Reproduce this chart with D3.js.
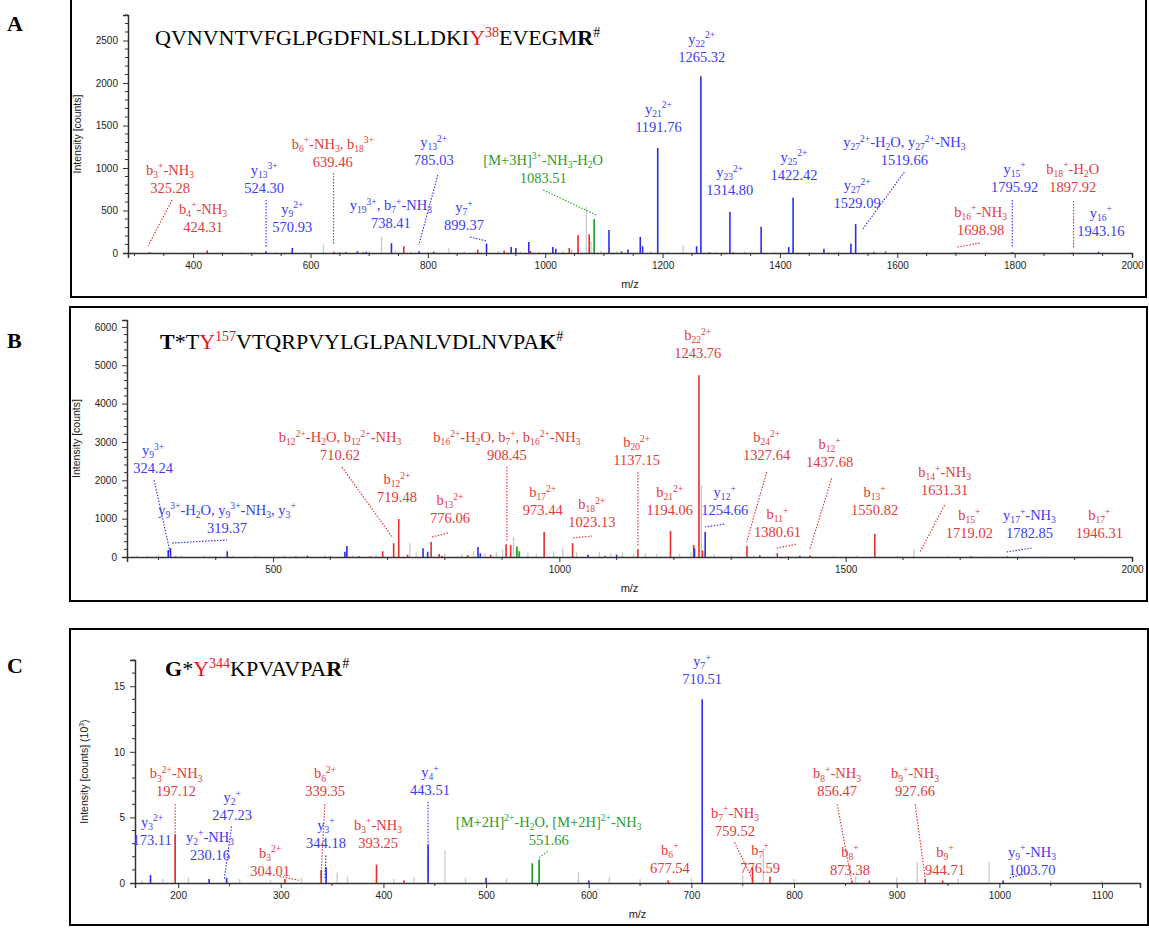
<!DOCTYPE html>
<html>
<head>
<meta charset="utf-8">
<script src="https://cdn.jsdelivr.net/npm/d3@7"></script>
<style>
  html, body { margin: 0; padding: 0; background: #fff; }
  svg { display: block; }
</style>
</head>
<body>
<script>
// ---------------- Panel A : QVNVNTVFGLPGDFNLSLLDKIY38EVEGMR ----------------
const xTicksA = [400, 600, 800, 1000, 1200, 1400, 1600, 1800, 2000];
const yTicksA = [0, 500, 1000, 1500, 2000, 2500];
const peaksA_gray = [[300,8],[330,12],[362,6],[395,10],[450,8],[482,12],[505,9],[540,14],[590,10],[622,100],[650,18],[700,25],[721,190],[745,30],[772,22],[800,15],[836,60],[862,20],[920,25],[958,18],[990,22],[1030,30],[1045,40],[1070,545],[1078,140],[1095,30],[1122,20],[1180,25],[1210,18],[1235,90],[1290,15],[1340,20],[1390,18],[1450,12],[1482,15],[1500,20],[1552,10],[1600,12],[1650,8],[1752,10],[1850,6],[1952,8]];
const peaksA_red = [[325.3,10],[424,30],[640,15],[660,10],[690,10],[759,80],[885,40],[930,30],[975,25],[1041,60],[1056,210],[1075,220],[1280,10],[1320,10],[1560,15],[1580,20],[1699,5],[1898,5]];
const peaksA_blue = [[524.3,20],[569,60],[680,20],[695,15],[738,115],[785,20],[810,15],[900,110],[942,70],[950,60],[972,130],[1013,70],[1018,50],[1108.7,270],[1130,20],[1141,40],[1162,190],[1166,80],[1191.76,1235],[1258,80],[1265.32,2080],[1314.8,486],[1368,310],[1415,70],[1422.42,650],[1475,50],[1521,110],[1529.09,340],[1796,12],[1943,15]];
const peaksA_green = [[1083.51,400]];
const ionsA = ["b_3^+-NH_3","b_4^+-NH_3","y_{13}^{3+}","y_9^{2+}","b_6^+-NH_3, b_{18}^{3+}","y_{13}^{2+}","y_{19}^{3+}, b_7^+-NH_3","y_7^+","[M+3H]^{3+}-NH_3-H_2O","y_{21}^{2+}","y_{22}^{2+}","y_{23}^{2+}","y_{25}^{2+}","y_{27}^{2+}-H_2O, y_{27}^{2+}-NH_3","y_{27}^{2+}","b_{16}^+-NH_3","y_{15}^+","b_{18}^+-H_2O","y_{16}^+"];
const mzLabelsA = ["325.28","424.31","524.30","570.93","639.46","785.03","738.41","899.37","1083.51","1191.76","1265.32","1314.80","1422.42","1519.66","1529.09","1698.98","1795.92","1897.92","1943.16"];
const ionColorsA = ["r","r","b","b","r","b","b","b","g","b","b","b","b","b","b","r","b","r","b"];
// label anchors (m/z centre, intensity of the value line baseline)
const labelPosA = [[360.7,706],[417,247],[521,706],[569,247],[638,1012],[810,1035],[737,294],[861.5,270],[996.6,824],[1193,1424],[1266.7,2247],[1314.5,682],[1424,859],[1612,1035],[1531.6,529],[1742,212],[1800,718],[1899,718],[1947,200]];
// dotted leader lines [m/z1, int1, m/z2, int2, colour]
const leadersA = [[364.1,624,323,82,"r"],[524.3,624,524.3,59,"b"],[639.3,941,639.3,94,"r"],[817,918,784.6,94,"b"],[871.8,188,900.9,141,"b"],[996.6,741,1087,447,"g"],[1612,953,1540,270,"b"],[1702.6,71,1742,118,"r"],[1796,624,1796,59,"b"],[1900.5,612,1900.5,59,"r"]];

// ---------------- Panel B : T*TY157VTQRPVYLGLPANLVDLNVPAK ----------------
const xTicksB = [500, 1000, 1500, 2000];
const yTicksB = [0, 1000, 2000, 3000, 4000, 5000, 6000];
const peaksB_gray = [[262,40],[280,30],[300,60],[340,40],[380,50],[430,30],[470,40],[520,50],[560,40],[590,60],[640,50],[680,70],[739,360],[750,120],[800,90],[830,80],[850,150],[870,110],[890,130],[901,200],[920,520],[945,120],[960,90],[990,150],[1006,250],[1030,120],[1050,100],[1070,140],[1090,100],[1110,120],[1130,90],[1150,110],[1170,80],[1210,90],[1230,130],[1248,1870],[1270,80],[1300,60],[1340,50],[1400,40],[1480,30],[1520,40],[1590,30],[1619,210],[1680,30],[1750,20],[1850,20],[1950,15]];
const peaksB_red = [[330,20],[400,10],[540,20],[600,20],[670,20],[691.5,150],[710.62,360],[719.48,990],[735,60],[776.06,390],[790,80],[795,30],[840,50],[880,60],[907,330],[915,310],[973.44,650],[1023.13,360],[1080,30],[1137.15,210],[1194.06,680],[1234.6,310],[1243.76,4740],[1250,170],[1327.64,290],[1380.61,100],[1437.68,40],[1550.82,600],[1719,20]];
const peaksB_blue = [[317,180],[321,230],[420,150],[560,30],[650,20],[625.6,140],[629,290],[762,230],[770,140],[858,260],[862,100],[1050,50],[1100,60],[1236,220],[1254.66,650],[1350,40],[1420,30],[1782,10]];
const peaksB_green = [[925.8,270],[930,150]];
const ionsB = ["y_9^{3+}","y_9^{3+}-H_2O, y_9^{3+}-NH_3, y_3^+","b_{12}^{2+}-H_2O, b_{12}^{2+}-NH_3","b_{12}^{2+}","b_{13}^{2+}","b_{16}^{2+}-H_2O, b_7^+, b_{16}^{2+}-NH_3","b_{17}^{2+}","b_{18}^{2+}","b_{20}^{2+}","b_{21}^{2+}","b_{22}^{2+}","y_{12}^+","b_{24}^{2+}","b_{11}^+","b_{12}^+","b_{13}^+","b_{14}^+-NH_3","b_{15}^+","y_{17}^+-NH_3","b_{17}^+"];
const mzLabelsB = ["324.24","319.37","710.62","719.48","776.06","908.45","973.44","1023.13","1137.15","1194.06","1243.76","1254.66","1327.64","1380.61","1437.68","1550.82","1631.31","1719.02","1782.85","1946.31"];
const ionColorsB = ["b","b","r","r","r","r","r","r","r","r","r","b","r","r","r","r","r","r","b","r"];
const labelPosB = [[290.6,2187],[419.7,626],[617,2526],[716.4,1432],[809,885],[908.4,2526],[971,1094],[1056.7,781],[1135,2396],[1192.8,1094],[1241.7,5182],[1288.8,1094],[1362,2526],[1381,521],[1472,2344],[1550.6,1094],[1672.8,1615],[1716,495],[1821,495],[1943,495]];
const leadersB = [[292.3,2005,320.2,130,"b"],[323.7,365,419.7,443,"b"],[620.4,2344,709.4,495,"r"],[777.5,521,805.4,625,"r"],[908.45,2344,908.45,417,"r"],[1023.6,495,1056.7,547,"r"],[1137.15,2214,1137.15,260,"r"],[1254,781,1288.8,859,"b"],[1362,2214,1327,390,"r"],[1379.6,234,1416,339,"r"],[1475.6,2057,1437,182,"r"],[1672.8,1354,1629,104,"r"],[1781,130,1824.6,234,"b"]];

// ---------------- Panel C : G*Y344KPVAVPAR ----------------
const xTicksC = [200, 300, 400, 500, 600, 700, 800, 900, 1000, 1100];
const yTicksC = [0, 5, 10, 15];
const peaksC_gray = [[165,0.2],[185,0.3],[210,0.4],[260,0.3],[290,0.2],[320,0.4],[355,0.8],[365,0.5],[410,0.3],[430,0.4],[460,2.5],[480,0.4],[520,0.3],[590,0.8],[620,0.5],[650,0.3],[700,0.4],[750,0.6],[770,2.6],[800,0.3],[860,0.5],[900,0.4],[920,1.6],[960,0.3],[990,1.6],[1050,0.2],[1100,0.2]];
const peaksC_red = [[197.12,3.7],[304,0.3],[339.35,1.0],[393.25,1.4],[420,0.2],[677.5,0.2],[759.52,1.2],[776.59,0.5],[856.5,0.2],[873.4,0.2],[927.7,0.3],[944.7,0.2]];
const peaksC_blue = [[173.11,0.6],[230.2,0.3],[247.23,0.4],[344.18,1.2],[443.51,2.9],[500,0.4],[600,0.2],[710.51,14.0],[1003.7,0.2]];
const peaksC_green = [[545,1.5],[551.66,1.8]];
const ionsC = ["y_3^{2+}","b_3^{2+}-NH_3","y_2^+","y_2^+-NH_3","b_3^{2+}","b_6^{2+}","y_3^+","b_3^+-NH_3","y_4^+","[M+2H]^{2+}-H_2O, [M+2H]^{2+}-NH_3","y_7^+","b_6^+","b_7^+-NH_3","b_7^+","b_8^+-NH_3","b_8^+","b_9^+-NH_3","b_9^+","y_9^+-NH_3"];
const mzLabelsC = ["173.11","197.12","247.23","230.16","304.01","339.35","344.18","393.25","443.51","551.66","710.51","677.54","759.52","776.59","856.47","873.38","927.66","944.71","1003.70"];
const ionColorsC = ["b","r","b","b","r","r","b","r","b","g","b","r","r","r","r","r","r","r","b"];
const labelPosC = [[174.7,2.9],[198,6.6],[252.6,4.8],[231,1.76],[289.6,0.54],[343.2,6.6],[344,2.68],[394.8,2.68],[445.4,6.7],[561,2.9],[710.4,15.15],[679,0.77],[742.5,3.6],[766.9,0.77],[841.9,6.6],[854.5,0.61],[917.8,6.6],[947,0.61],[1031.8,0.61]];
const leadersC = [[197.12,6.0,197.12,0.2,"r"],[252,4.3,245,0.3,"b"],[299,0.5,318,0.2,"r"],[343,6.0,339,0.3,"r"],[344,2.1,343,0.4,"b"],[443.5,6.2,443.5,0.3,"b"],[560,2.4,551,1.9,"g"],[742,3.1,760,0.2,"r"],[842,6.0,856,0.2,"r"],[918,6.0,928,0.2,"r"],[1010,0.4,1030,0.8,"b"]];

// ---------------------------------------------------------------------------
const W = 1149, H = 928;
const svg = d3.select("body").append("svg").attr("width", W).attr("height", H);

const PEAK_COL = { gray: "#c6c6c6", r: "#e52b2b", b: "#2b2bf0", g: "#27a127" };
const TEXT_COL = { r: "#e23a3a", b: "#3b3bf2", g: "#2f9a2f" };
const SERIF = "'Liberation Serif','Times New Roman',serif";
const SANS = "'Liberation Sans',Arial,sans-serif";

// split "b_{12}^{2+}-NH_3" into normal / subscript / superscript runs
function parseIon(s) {
  const segs = []; let buf = ""; let i = 0;
  const flush = () => { if (buf) { segs.push({ t: buf, m: 0 }); buf = ""; } };
  while (i < s.length) {
    const c = s[i];
    if (c === "_" || c === "^") {
      flush();
      let grp;
      if (s[i + 1] === "{") { const j = s.indexOf("}", i + 2); grp = s.slice(i + 2, j); i = j + 1; }
      else { grp = s[i + 1]; i += 2; }
      segs.push({ t: grp, m: c === "_" ? -1 : 1 });
    } else { buf += c; i++; }
  }
  flush();
  return segs;
}

function richText(textSel, s, size) {
  let cur = 0;
  parseIon(s).forEach(seg => {
    const target = seg.m === 1 ? -0.38 * size : seg.m === -1 ? 0.22 * size : 0;
    textSel.append("tspan")
      .attr("dy", (target - cur).toFixed(2))
      .attr("font-size", seg.m ? size * 0.66 : size)
      .text(seg.t);
    cur = target;
  });
}

function drawPanel(cfg) {
  const g = svg.append("g");
  const [fx0, fy0, fx1, fy1] = cfg.frame;
  g.append("rect").attr("x", fx0).attr("y", fy0).attr("width", fx1 - fx0).attr("height", fy1 - fy0)
    .attr("fill", "none").attr("stroke", "#000").attr("stroke-width", 2);

  const x = d3.scaleLinear().domain(cfg.xDomain).range([cfg.plot.left, cfg.plot.right]);
  const y = d3.scaleLinear().domain(cfg.yDomain).range([cfg.plot.bottom, cfg.plot.top]);

  // peaks
  const series = [["gray", cfg.peaks.gray, 1.2], ["r", cfg.peaks.r, 1.6], ["b", cfg.peaks.b, 1.6], ["g", cfg.peaks.g, 1.8]];
  series.forEach(([key, data, w]) => {
    g.append("g").selectAll("line").data(data).join("line")
      .attr("x1", d => x(d[0])).attr("x2", d => x(d[0]))
      .attr("y1", y(0)).attr("y2", d => y(d[1]))
      .attr("stroke", PEAK_COL[key]).attr("stroke-width", w);
  });

  // axes
  const axisCol = "#333";
  const xMinor = d3.range(Math.ceil(cfg.xDomain[0] / cfg.xMinorStep) * cfg.xMinorStep, cfg.xDomain[1] + 0.01, cfg.xMinorStep)
    .filter(v => !cfg.xTicks.includes(v));
  const yMinor = d3.range(cfg.yDomain[0], cfg.yDomain[1] + 1e-9, cfg.yMinorStep).filter(v => !cfg.yTicks.includes(v));

  const xAxis = g.append("g").attr("transform", `translate(0,${cfg.plot.bottom})`)
    .call(d3.axisBottom(x).tickValues(cfg.xTicks).tickSize(5).tickPadding(4).tickFormat(d3.format("d")));
  xAxis.append("g").selectAll("line").data(xMinor).join("line")
    .attr("x1", d => x(d)).attr("x2", d => x(d)).attr("y1", 0).attr("y2", 3).attr("stroke", axisCol);
  const yAxis = g.append("g").attr("transform", `translate(${cfg.plot.left},0)`)
    .call(d3.axisLeft(y).tickValues(cfg.yTicks).tickSize(5).tickPadding(5).tickFormat(d3.format("d")));
  yAxis.append("g").selectAll("line").data(yMinor).join("line")
    .attr("y1", d => y(d)).attr("y2", d => y(d)).attr("x1", 0).attr("x2", -3).attr("stroke", axisCol);
  [xAxis, yAxis].forEach(a => {
    a.select(".domain").attr("stroke", axisCol).attr("stroke-width", 1.5);
    a.selectAll(".tick line").attr("stroke", axisCol);
    a.selectAll(".tick text").attr("font-family", SANS).attr("font-size", 10).attr("fill", "#222");
  });

  // axis titles
  g.append("text").attr("x", (cfg.plot.left + cfg.plot.right) / 2).attr("y", cfg.plot.bottom + 35)
    .attr("text-anchor", "middle").attr("font-family", SANS).attr("font-size", 11).attr("fill", "#222").text("m/z");
  const yl = g.append("text")
    .attr("transform", `translate(${cfg.plot.left - 47},${(cfg.plot.top + cfg.plot.bottom) / 2}) rotate(-90)`)
    .attr("text-anchor", "middle").attr("font-family", SANS).attr("font-size", 10.5).attr("fill", "#222");
  richText(yl, cfg.yTitle, 10.5);

  // leader lines
  g.append("g").selectAll("line").data(cfg.leaders).join("line")
    .attr("x1", d => x(d[0])).attr("y1", d => y(d[1]))
    .attr("x2", d => x(d[2])).attr("y2", d => y(d[3]))
    .attr("stroke", d => PEAK_COL[d[4]]).attr("stroke-width", 1.1).attr("stroke-dasharray", "1.5,1.5");

  // ion annotations: ion name above, m/z value below
  const fs = 14.5;
  cfg.ions.forEach((ion, i) => {
    const [mx, my] = cfg.labelPos[i];
    const col = TEXT_COL[cfg.colors[i]];
    const t1 = g.append("text").attr("x", x(mx)).attr("y", y(my) - 18)
      .attr("text-anchor", "middle").attr("font-family", SERIF).attr("font-size", fs).attr("fill", col);
    richText(t1, ion, fs);
    g.append("text").attr("x", x(mx)).attr("y", y(my))
      .attr("text-anchor", "middle").attr("font-family", SERIF).attr("font-size", fs).attr("fill", col)
      .text(cfg.mzLabels[i]);
  });

  // peptide sequence
  const tt = g.append("text").attr("x", cfg.titlePos[0]).attr("y", cfg.titlePos[1])
    .attr("font-family", SERIF).attr("font-size", 22).attr("fill", "#000");
  let cur = 0;
  cfg.title.forEach(([txt, st]) => {
    const sup = st.includes("sup");
    const target = sup ? -8 : 0;
    tt.append("tspan").attr("dy", target - cur)
      .attr("font-size", sup ? 14 : 22)
      .attr("font-weight", st.includes("bold") ? "bold" : null)
      .attr("fill", st.includes("red") ? "#e8161a" : "#000")
      .text(txt);
    cur = target;
  });

  // panel letter
  svg.append("text").attr("x", 7).attr("y", cfg.letterY).attr("font-family", SERIF)
    .attr("font-size", 22).attr("font-weight", "bold").text(cfg.letter);
}

drawPanel({
  letter: "A", letterY: 31,
  frame: [71, -2, 1146, 297],
  plot: { left: 128, right: 1132, top: 15, bottom: 253 },
  xDomain: [289, 2000], yDomain: [0, 2800],
  xTicks: xTicksA, yTicks: yTicksA, xMinorStep: 50, yMinorStep: 100,
  yTitle: "Intensity [counts]",
  peaks: { gray: peaksA_gray, r: peaksA_red, b: peaksA_blue, g: peaksA_green },
  ions: ionsA, mzLabels: mzLabelsA, colors: ionColorsA, labelPos: labelPosA, leaders: leadersA,
  title: [["QVNVNTVFGLPGDFNLSLLDKI", ""], ["Y", "red"], ["38", "red sup"], ["EVEGM", ""], ["R", "bold"], ["#", "sup"]],
  titlePos: [155, 45]
});

drawPanel({
  letter: "B", letterY: 348,
  frame: [70, 307, 1147, 601],
  plot: { left: 127, right: 1132, top: 320, bottom: 557 },
  xDomain: [245, 2000], yDomain: [0, 6180],
  xTicks: xTicksB, yTicks: yTicksB, xMinorStep: 100, yMinorStep: 200,
  yTitle: "Intensity [counts]",
  peaks: { gray: peaksB_gray, r: peaksB_red, b: peaksB_blue, g: peaksB_green },
  ions: ionsB, mzLabels: mzLabelsB, colors: ionColorsB, labelPos: labelPosB, leaders: leadersB,
  title: [["T", "bold"], ["*T", ""], ["Y", "red"], ["157", "red sup"], ["VTQRPVYLGLPANLVDLNVPA", ""], ["K", "bold"], ["#", "sup"]],
  titlePos: [160, 349]
});

drawPanel({
  letter: "C", letterY: 673,
  frame: [70, 629, 1148, 925],
  plot: { left: 135, right: 1140, top: 660, bottom: 883 },
  xDomain: [158, 1137], yDomain: [0, 17],
  xTicks: xTicksC, yTicks: yTicksC, xMinorStep: 50, yMinorStep: 1,
  yTitle: "Intensity [counts] (10^3)",
  peaks: { gray: peaksC_gray, r: peaksC_red, b: peaksC_blue, g: peaksC_green },
  ions: ionsC, mzLabels: mzLabelsC, colors: ionColorsC, labelPos: labelPosC, leaders: leadersC,
  title: [["G", "bold"], ["*", ""], ["Y", "red"], ["344", "red sup"], ["KPVAVPA", ""], ["R", "bold"], ["#", "sup"]],
  titlePos: [165, 676]
});
</script>
</body>
</html>
